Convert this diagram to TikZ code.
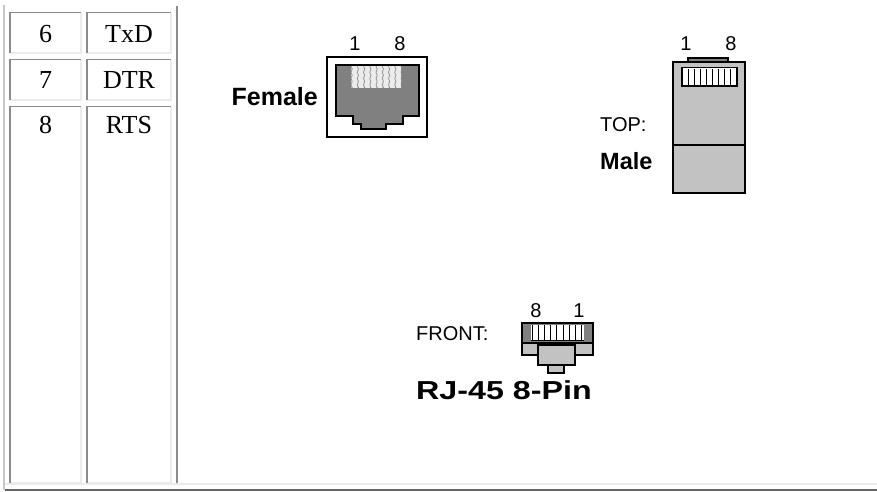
\documentclass[tikz,border=0pt]{standalone}
\usepackage{fontspec}
\setmainfont{Liberation Serif}
\newfontfamily\arial{Liberation Sans}
\begin{document}
\begin{tikzpicture}[x=1pt,y=-1pt,
  celltext/.style={inner sep=0pt,anchor=base,font=\fontsize{26}{28}\selectfont},
  lbl/.style={inner sep=0pt,font=\arial\fontsize{20}{22}\selectfont},
  blbl/.style={inner sep=0pt,font=\arial\bfseries\fontsize{25}{27}\selectfont},
  darkedge/.style={draw=black!45,line width=1.4pt},
  lightedge/.style={draw=black!8,line width=1.4pt},
  outl/.style={draw=black,line width=1.3pt}]
\useasboundingbox (0,0) rectangle (877,491);
\fill[white] (0,0) rectangle (877,491);
% table frame
\draw[black!22,line width=1.3pt] (4,5) -- (4,490);
\draw[black!45,line width=1.8pt] (177,6) -- (177,484);
\draw[black!8,line width=1.3pt] (5,484) -- (877,484);
\draw[black!60,line width=1.8pt] (5,490) -- (877,490);
% cells
\foreach \xa/\xb in {10/81,87/171}{
  \foreach \ya/\yb in {12.5/53,59.5/100,106.5/483}{
    \draw[lightedge] (\xb,\ya) -- (\xb,\yb) -- (\xa,\yb);
    \draw[darkedge] (\xa,\yb) -- (\xa,\ya) -- (\xb,\ya);
  }
}
\node[celltext] (n6) at (45.5,42) {6};
\node[celltext] (s6) at (129,42) {TxD};
\node[celltext] (n7) at (45.5,88) {7};
\node[celltext] (s7) at (129,88) {DTR};
\node[celltext] (n8) at (45.5,133) {8};
\node[celltext] (s8) at (129,133) {RTS};
% Female jack
\node[blbl,anchor=east] (female) at (318,97) {Female};
\node[lbl] (f1) at (355,44) {1};
\node[lbl] (f8) at (400,44) {8};
\draw[outl,fill=white] (327,57) rectangle (427,137);
\draw[outl,fill=black!50] (336,65) -- (419,65) -- (419,116) -- (403,116) -- (403,124) -- (386,124) -- (386,129) -- (361,129) -- (361,124) -- (353,124) -- (353,116) -- (336,116) -- cycle;
\fill[black!8] (351,66) rectangle (401,88);
\foreach \i in {0,...,8}{
  \draw[black!45,line width=0.7pt] (351+\i*6.25,66)
    \foreach \k in {1,...,7}{ -- ++({mod(\k,2)==1 ? 1.2 : -1.2},3.1) } -- (351+\i*6.25,88);
}
% Male top view
\node[lbl] (m1) at (686,44) {1};
\node[lbl] (m8) at (731,44) {8};
\node[lbl,anchor=west] (top) at (600,125) {TOP:};
\node[blbl,anchor=west,font=\arial\bfseries\fontsize{23.5}{25}\selectfont] (male) at (600,161) {Male};
\draw[outl,fill=black!50] (688,58) rectangle (728,62);
\draw[outl,fill=black!24] (673,62) rectangle (745,193);
\draw[outl] (673,145) -- (745,145);
\draw[outl,fill=white] (682,67.5) rectangle (737,86);
\foreach \i in {1,...,8}{
  \draw[black,line width=1pt] (682+\i*6.1,69) -- (682+\i*6.1,84.5);
}
% Front view
\node[lbl,anchor=west] (front) at (416,334) {FRONT:};
\node[lbl] (r8) at (536,311) {8};
\node[lbl] (r1) at (579,311) {1};
\draw[outl,fill=black!24] (522,343) rectangle (593,355);
\draw[outl,fill=black!24] (548,365) rectangle (564,373);
\draw[outl,fill=black!24] (538,345) rectangle (575,365);
\draw[outl,fill=black!50] (522,323) rectangle (593,343);
\fill[white] (531,325) rectangle (584,340);
\foreach \i in {0,...,8}{
  \draw[black,line width=0.9pt] (532+\i*6.2,325) -- (532+\i*6.2,340);
}
\draw[black,line width=1.3pt] (531,340.5) -- (584,340.5);
\node[blbl,anchor=west,font=\arial\bfseries\fontsize{26}{28}\selectfont] (rj) at (416,390) {\scalebox{1.24}[1]{RJ-45 8-Pin}};
\end{tikzpicture}
\end{document}
